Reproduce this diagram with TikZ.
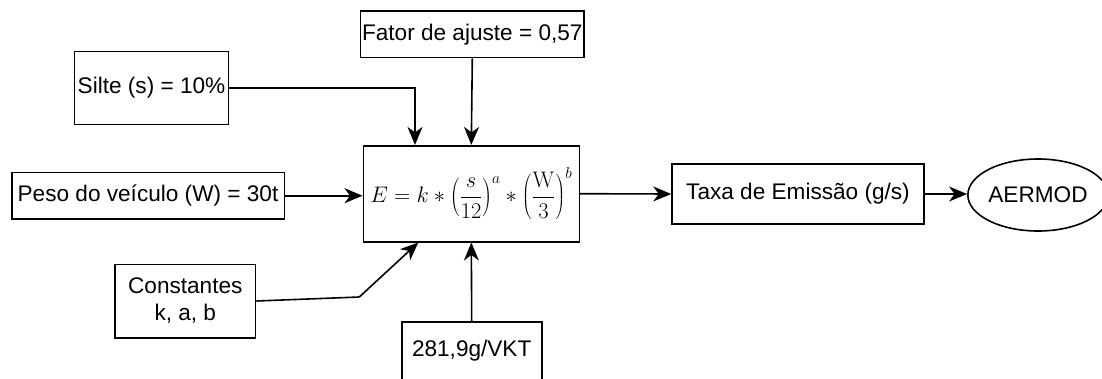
\documentclass[tikz,border=0pt]{standalone}
\usepackage[no-math]{fontspec}
\setmainfont{Liberation Sans}
\usetikzlibrary{arrows.meta,shapes.geometric}
\begin{document}
\begin{tikzpicture}[x=1pt,y=-1pt,
  every node/.style={font=\fontsize{22.6}{27}\selectfont, text=black},
  box/.style={draw=black, line width=1.6pt, fill=white, rectangle, inner sep=0pt, align=center},
  oval/.style={draw=black, line width=1.6pt, fill=white, ellipse, inner sep=0pt},
  arr/.style={draw=black, line width=1.6pt, -{Stealth[length=18pt,width=15pt,inset=5.5pt]}},
  link/.style={draw=black, line width=1.6pt}]
\useasboundingbox (0,0) rectangle (1102,378);
\clip (0,0) rectangle (1102,378);
\node[box, minimum width=223.5pt, minimum height=46.5pt] (fator) at (472.3,34.3) {Fator de ajuste = 0,57};
\node[box, minimum width=154pt, minimum height=73pt] (silte) at (151.5,88) {Silte (s) = 10\%};
\node[box, minimum width=272.6pt, minimum height=46.7pt] (peso) at (148,195.7) {Peso do veículo (W) = 30t};
\node[box, minimum width=216pt, minimum height=96pt] (formula) at (471.3,193.7)
  {\resizebox{202pt}{!}{$\displaystyle E = k \ast \left(\frac{s}{12}\right)^{a} \ast \left(\frac{\mathrm{W}}{3}\right)^{b}$}};
\node[box, minimum width=140.7pt, minimum height=73.4pt] (const) at (185.3,301) {Constantes\\k, a, b};
\node[box, minimum width=140pt, minimum height=58pt] (vkt) at (471.7,351) {281,9g/VKT};
\node[box, minimum width=252pt, minimum height=60pt] (taxa) at (798,194) {Taxa de Emissão (g/s)};
\node[oval, minimum width=123pt, minimum height=72pt] (aermod) at (1038,195) {AERMOD};
\coordinate (kbend) at (359.3,297);
\draw[arr] (silte.east) -| ([xshift=-56.3pt]formula.north);
\draw[arr] (fator.south) -- (formula.north);
\draw[arr] (peso.east) -- (peso.east -| formula.west);
\draw[link] (const.east) -- (kbend);
\draw[arr] (kbend) -- ([xshift=-53pt]formula.south);
\draw[arr] (vkt.north) -- (formula.south);
\draw[arr] (formula.east) -- (taxa.west);
\draw[arr] (taxa.east) -- (taxa.east -| aermod.west);
\end{tikzpicture}
\end{document}
